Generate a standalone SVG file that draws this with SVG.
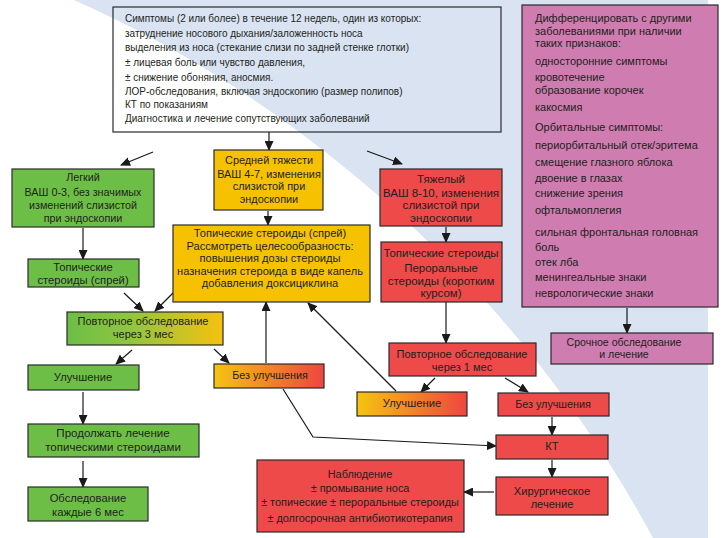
<svg xmlns="http://www.w3.org/2000/svg" width="723" height="538" viewBox="0 0 723 538">
<defs>
<style>
.t{font-family:"Liberation Sans",Arial,sans-serif;font-size:11px;fill:#231f20}
.c{text-anchor:middle}
.box{stroke:#2a2a2a;stroke-width:1.2}
.g{fill:#6dbe46}.y{fill:#f6c200}.r{fill:#ee4a4a}.p{fill:#cf7db1}
.ln{fill:none;stroke:#1a1a1a;stroke-width:1.2;marker-end:url(#ah)}
</style>
<marker id="ah" markerUnits="userSpaceOnUse" markerWidth="10" markerHeight="9" refX="9" refY="4.5" orient="auto"><path d="M0,0 L10,4.5 L0,9 z" fill="#1a1a1a"/></marker>
<linearGradient id="gGY" x1="0" y1="0" x2="1" y2="0"><stop offset="0" stop-color="#6dbe46"/><stop offset="0.4" stop-color="#8fc63e"/><stop offset="1" stop-color="#f6c10f"/></linearGradient>
<linearGradient id="gYR" x1="0" y1="0" x2="1" y2="0"><stop offset="0" stop-color="#f6c40f"/><stop offset="1" stop-color="#ee4540"/></linearGradient>
</defs>
<rect width="723" height="538" fill="#ffffff"/>
<path d="M74,0 L708,0 L708,538 L653,538 C520,290 300,100 74,0 Z" fill="#d9e3f2"/>

<g id="connectors">
<line class="ln" x1="269" y1="132" x2="269" y2="150"/>
<line class="ln" x1="153" y1="152" x2="121" y2="165"/>
<line class="ln" x1="367" y1="151" x2="402" y2="164"/>
<line class="ln" x1="83" y1="228" x2="83" y2="259"/>
<line class="ln" x1="124" y1="293" x2="143" y2="311"/>
<line class="ln" x1="174" y1="292" x2="155" y2="311"/>
<line class="ln" x1="268" y1="211" x2="268" y2="225"/>
<line class="ln" x1="132" y1="350" x2="116" y2="364"/>
<line class="ln" x1="214" y1="349" x2="229" y2="363"/>
<line class="ln" x1="83" y1="392" x2="83" y2="424"/>
<line class="ln" x1="83" y1="461" x2="83" y2="487"/>
<line class="ln" x1="266" y1="363" x2="266" y2="302"/>
<polyline class="ln" points="283,389 313,437 496,446"/>
<line class="ln" x1="446" y1="227" x2="446" y2="242"/>
<line class="ln" x1="446" y1="302" x2="446" y2="343"/>
<line class="ln" x1="435" y1="378" x2="421" y2="392"/>
<line class="ln" x1="505" y1="378" x2="528" y2="392"/>
<line class="ln" x1="396" y1="391" x2="308" y2="303"/>
<line class="ln" x1="552" y1="417" x2="552" y2="435"/>
<line class="ln" x1="552" y1="460" x2="552" y2="477"/>
<line class="ln" x1="494" y1="492" x2="464" y2="492"/>
<line class="ln" x1="627" y1="308" x2="627" y2="333"/>
</g>

<g id="top">
<rect class="box" x="113" y="7" width="388" height="125" fill="none"/>
<g class="t" transform="translate(125,0) scale(0.91,1)">
<text x="0" y="22">Симптомы (2 или более) в течение 12 недель, один из которых:</text>
<text x="0" y="37">затруднение носового дыхания/заложенность носа</text>
<text x="0" y="51.5">выделения из носа (стекание слизи по задней стенке глотки)</text>
<text x="0" y="66">± лицевая боль или чувство давления,</text>
<text x="0" y="81">± снижение обоняния, аносмия.</text>
<text x="0" y="95">ЛОР-обследования, включая эндоскопию (размер полипов)</text>
<text x="0" y="107.8">КТ по показаниям</text>
<text x="0" y="122">Диагностика и лечение сопутствующих заболеваний</text>
</g>
</g>

<g id="diff">
<rect class="box p" x="522" y="5" width="196" height="302"/>
<g class="t">
<text x="535" y="21.8">Дифференцировать с другими</text>
<text x="535" y="34.6">заболеваниями при наличии</text>
<text x="535" y="47.3">таких признаков:</text>
<text x="535" y="64.5">односторонние симптомы</text>
<text x="535" y="80.5">кровотечение</text>
<text x="535" y="94">образование корочек</text>
<text x="535" y="111">какосмия</text>
<text x="535" y="130.5">Орбитальные симптомы:</text>
<text x="535" y="148.5">периорбитальный отек/эритема</text>
<text x="535" y="165.5">смещение глазного яблока</text>
<text x="535" y="181.5">двоение в глазах</text>
<text x="535" y="197">снижение зрения</text>
<text x="535" y="214">офтальмоплегия</text>
<text x="535" y="235.5">сильная фронтальная головная</text>
<text x="535" y="250.5">боль</text>
<text x="535" y="265.5">отек лба</text>
<text x="535" y="281">менингеальные знаки</text>
<text x="535" y="297">неврологические знаки</text>
</g>
</g>

<g id="urgent">
<rect class="box p" x="551" y="333" width="162" height="31"/>
<g class="t c" transform="translate(624,0) scale(0.96,1)">
<text x="0" y="346">Срочное обследование</text>
<text x="0" y="358.5">и лечение</text>
</g>
</g>

<g id="mild">
<rect class="box g" x="12" y="169" width="142" height="58"/>
<g class="t c" transform="translate(83,0) scale(0.98,1)">
<text x="0" y="181.5">Легкий</text>
<text x="0" y="196">ВАШ 0-3, без значимых</text>
<text x="0" y="208.7">изменений слизистой</text>
<text x="0" y="221.7">при эндоскопии</text>
</g>
</g>

<g id="mild-tx">
<rect class="box g" x="28" y="259" width="111" height="28"/>
<g class="t c" transform="translate(83,0) scale(1.02,1)">
<text x="0" y="271">Топические</text>
<text x="0" y="283.7">стероиды (спрей)</text>
</g>
</g>

<g id="moderate">
<rect class="box y" x="214" y="150" width="109" height="60"/>
<g class="t c" transform="translate(269,0) scale(0.99,1)">
<text x="0" y="164.5">Средней тяжести</text>
<text x="0" y="178">ВАШ 4-7, изменения</text>
<text x="0" y="190.5">слизистой при</text>
<text x="0" y="203">эндоскопии</text>
</g>
</g>

<g id="moderate-tx">
<rect class="box y" x="173" y="225" width="197" height="77"/>
<g class="t c" transform="translate(270,0) scale(1.01,1)">
<text x="0" y="237.5">Топические стероиды (спрей)</text>
<text x="0" y="250">Рассмотреть целесообразность:</text>
<text x="0" y="262.5">повышения дозы стероиды</text>
<text x="0" y="275">назначения стероида в виде капель</text>
<text x="0" y="287.5">добавления доксициклина</text>
</g>
</g>

<g id="review3">
<rect class="box" x="67" y="312" width="156" height="33" fill="url(#gGY)"/>
<g class="t c" transform="translate(143,0)">
<text x="0" y="324.7">Повторное обследование</text>
<text x="0" y="338">через 3 мес</text>
</g>
</g>

<g id="improve1">
<rect class="box g" x="28" y="365" width="111" height="25"/>
<g class="t c" transform="translate(83,0) scale(1.02,1)">
<text x="0" y="381.5">Улучшение</text>
</g>
</g>

<g id="continue">
<rect class="box g" x="28" y="424" width="171" height="33"/>
<g class="t c" transform="translate(113,0) scale(1.05,1)">
<text x="0" y="437">Продолжать лечение</text>
<text x="0" y="451">топическими стероидами</text>
</g>
</g>

<g id="exam6">
<rect class="box g" x="28" y="487" width="120" height="34"/>
<g class="t c" transform="translate(88,0) scale(1.02,1)">
<text x="0" y="502.5">Обследование</text>
<text x="0" y="515.7">каждые 6 мес</text>
</g>
</g>

<g id="noimprove1">
<rect class="box" x="214" y="364" width="110" height="24" fill="url(#gYR)"/>
<g class="t c" transform="translate(270,0) scale(0.98,1)">
<text x="0" y="379.5">Без улучшения</text>
</g>
</g>

<g id="severe">
<rect class="box r" x="380" y="169" width="122" height="57"/>
<g class="t c" transform="translate(441,0) scale(1.05,1)">
<text x="0" y="183">Тяжелый</text>
<text x="0" y="196.7">ВАШ 8-10, изменения</text>
<text x="0" y="209.3">слизистой при</text>
<text x="0" y="222">эндоскопии</text>
</g>
</g>

<g id="severe-tx">
<rect class="box r" x="381" y="242" width="121" height="60"/>
<g class="t c" transform="translate(441,0) scale(1.04,1)">
<text x="0" y="257.5">Топические стероиды</text>
<text x="0" y="272.3">Пероральные</text>
<text x="0" y="284.8">стероиды (коротким</text>
<text x="0" y="297.3">курсом)</text>
</g>
</g>

<g id="review1">
<rect class="box r" x="389" y="343" width="147" height="33"/>
<g class="t c" transform="translate(462,0)">
<text x="0" y="358">Повторное обследование</text>
<text x="0" y="370.5">через 1 мес</text>
</g>
</g>

<g id="improve2">
<rect class="box" x="357" y="392" width="110" height="24" fill="url(#gYR)"/>
<g class="t c" transform="translate(412,0) scale(1.02,1)">
<text x="0" y="407">Улучшение</text>
</g>
</g>

<g id="noimprove2">
<rect class="box r" x="498" y="393" width="111" height="23"/>
<g class="t c" transform="translate(553,0) scale(0.98,1)">
<text x="0" y="407.7">Без улучшения</text>
</g>
</g>

<g id="ct">
<rect class="box r" x="496" y="435" width="112" height="24"/>
<g class="t c" transform="translate(552,0) scale(1.02,1)">
<text x="0" y="450.4">КТ</text>
</g>
</g>

<g id="surgery">
<rect class="box r" x="496" y="477" width="112" height="38"/>
<g class="t c" transform="translate(552,0) scale(1.01,1)">
<text x="0" y="495">Хирургическое</text>
<text x="0" y="508">лечение</text>
</g>
</g>

<g id="observe">
<rect class="box r" x="257" y="460" width="207" height="72"/>
<g class="t c" transform="translate(360,0) scale(0.99,1)">
<text x="0" y="477.7">Наблюдение</text>
<text x="0" y="492">± промывание носа</text>
<text x="0" y="506.4">± топические ± пероральные стероиды</text>
<text x="0" y="522">± долгосрочная антибиотикотерапия</text>
</g>
</g>
</svg>
